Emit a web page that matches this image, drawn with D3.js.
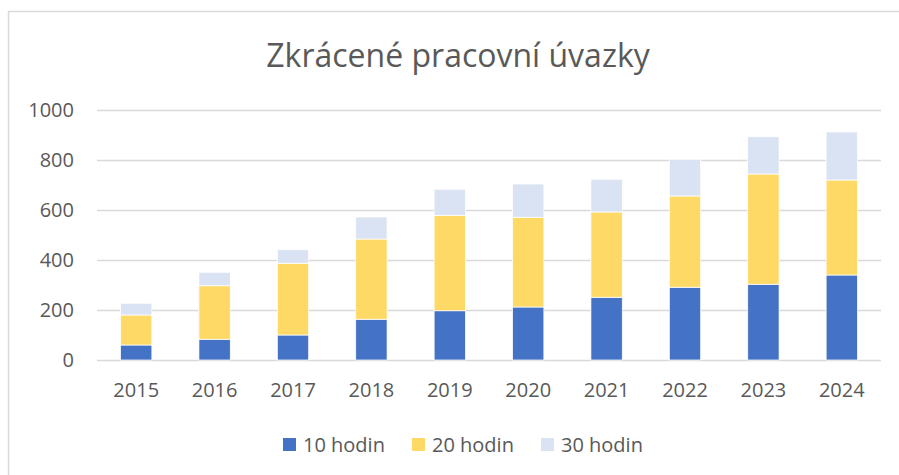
<!DOCTYPE html>
<html>
<head>
<meta charset="utf-8">
<script src="https://cdn.jsdelivr.net/npm/d3@7"></script>
<style>
  body { margin: 0; background: #fff; }
  text { font-family: "Open Sans", sans-serif; fill: #595959; }
</style>
</head>
<body>
<div id="chart"></div>
<script>
const years = ["2015", "2016", "2017", "2018", "2019", "2020", "2021", "2022", "2023", "2024"];
const seriesNames = ["10 hodin", "20 hodin", "30 hodin"];
const h10 = [60, 83, 100, 163, 197, 212, 251, 291, 303, 340];
const h20 = [120, 214, 287, 321, 382, 359, 341, 365, 441, 380];
const h30 = [47, 54, 54, 88, 104, 133, 131, 147, 149, 192];
const yTicks = [0, 200, 400, 600, 800, 1000];
const colors = ["#4472C4", "#FFD966", "#DAE3F3"];

const W = 899, H = 475;
const svg = d3.select("#chart").append("svg")
  .attr("width", W).attr("height", H);

// chart frame (continues past the right / bottom edge)
svg.append("rect")
  .attr("x", 8.5).attr("y", 11.5)
  .attr("width", 920).attr("height", 480)
  .attr("fill", "none").attr("stroke", "#d9d9d9").attr("stroke-width", 1.5);

svg.append("text")
  .attr("x", 458).attr("y", 67)
  .attr("text-anchor", "middle")
  .style("font-size", "32px")
  .text("Zkrácené pracovní úvazky");

const x = d3.scaleBand().domain(years).range([97, 881])
  .paddingInner(0.6).paddingOuter(0.3);
const y = d3.scaleLinear().domain([0, 1000]).range([360, 110]);

// gridlines
svg.append("g")
  .call(d3.axisLeft(y).tickValues(yTicks).tickSize(-(881 - 97)).tickFormat(""))
  .attr("transform", "translate(97,0)")
  .call(g => g.select(".domain").remove())
  .call(g => g.selectAll("line").attr("stroke", "#d9d9d9").attr("stroke-width", 1.5));

// y labels
svg.append("g")
  .attr("transform", "translate(74,0)")
  .call(d3.axisLeft(y).tickValues(yTicks).tickSize(0).tickPadding(0).tickFormat(d3.format("d")))
  .call(g => g.select(".domain").remove())
  .call(g => g.selectAll("text").style("font-size", "20px").attr("fill", "#595959")
    .style("font-family", "'Open Sans', sans-serif"));

// x labels
svg.append("g")
  .attr("transform", "translate(0,360)")
  .call(d3.axisBottom(x).tickSize(0).tickPadding(23))
  .call(g => g.select(".domain").remove())
  .call(g => g.selectAll("text").style("font-size", "20px").attr("fill", "#595959")
    .style("font-family", "'Open Sans', sans-serif"));

const rows = years.map((yr, i) => ({ year: yr, "10 hodin": h10[i], "20 hodin": h20[i], "30 hodin": h30[i] }));
const stack = d3.stack().keys(seriesNames)(rows);

svg.append("g").selectAll("g").data(stack).join("g")
  .attr("fill", (d, i) => colors[i])
  .selectAll("rect").data(d => d).join("rect")
  .attr("x", d => x(d.data.year))
  .attr("width", x.bandwidth())
  .attr("y", d => y(d[1]))
  .attr("height", d => y(d[0]) - y(d[1]))
  .attr("stroke", "#fff").attr("stroke-width", 0.75);

// legend
const legendX = [283, 412, 541];
const lg = svg.append("g").selectAll("g").data(seriesNames).join("g")
  .attr("transform", (d, i) => `translate(${legendX[i]},438)`);
lg.append("rect").attr("width", 13).attr("height", 13).attr("fill", (d, i) => colors[i]);
lg.append("text").attr("x", 20).attr("y", 13.5).style("font-size", "20px").text(d => d);
</script>
</body>
</html>
